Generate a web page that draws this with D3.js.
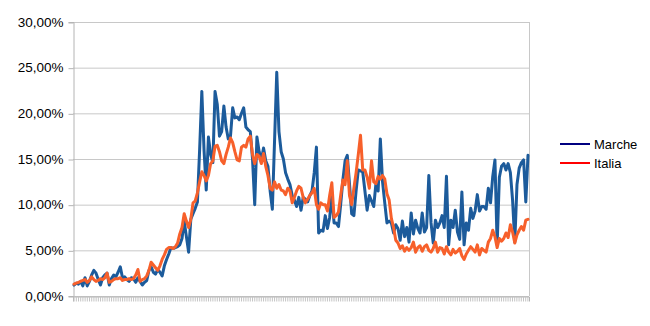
<!DOCTYPE html>
<html><head><meta charset="utf-8">
<script src="https://cdn.jsdelivr.net/npm/d3@7"></script>
<style>body{margin:0;background:#fff}svg{display:block}</style>
</head><body><svg id="c" width="650" height="326"></svg>
<script>
const seriesNames = ["Marche", "Italia"];
const marche = [1.2,1.4,1.3,1.6,1.1,2.0,1.1,1.6,2.3,2.8,2.5,1.8,1.2,2.0,2.3,2.5,1.2,1.9,2.3,2.1,
2.6,3.2,2.0,2.1,1.8,1.6,2.0,1.9,1.5,2.0,1.6,1.2,1.5,1.7,2.8,3.2,2.6,2.4,2.9,2.6,
2.2,3.3,4.0,4.6,5.3,5.2,5.3,5.4,5.6,6.3,8.2,6.5,4.8,8.4,9.0,9.6,10.3,16.0,22.4,16.0,
11.6,17.4,15.5,14.6,22.4,21.0,17.5,18.0,20.8,18.5,17.2,17.5,20.6,19.5,19.6,19.3,20.0,20.6,18.5,18.2,
18.0,15.0,10.0,17.4,15.8,14.9,16.2,14.8,14.2,11.5,9.5,17.0,24.5,18.0,15.8,15.0,13.5,12.8,12.2,11.0,
10.5,9.8,10.8,9.4,10.8,10.6,10.3,11.0,11.5,13.5,16.3,6.9,7.2,7.1,8.8,7.4,8.6,11.0,8.0,8.0,
7.6,10.0,12.7,14.8,15.4,12.3,9.0,8.8,11.5,13.8,13.7,13.6,11.5,9.4,11.0,10.4,9.8,12.3,11.5,17.2,
12.5,10.2,8.0,8.2,8.0,6.9,7.8,7.4,6.1,8.2,6.5,7.5,5.9,9.1,6.8,8.3,7.4,6.9,9.1,7.0,
7.5,13.2,8.0,5.8,8.3,7.5,8.0,8.8,7.5,13.1,5.6,8.3,7.5,9.4,7.0,6.2,11.4,5.6,8.0,7.2,
9.6,8.5,9.3,11.1,9.3,9.8,9.8,9.5,11.8,10.2,13.1,14.9,5.6,13.0,14.2,14.5,13.8,14.5,13.5,10.5,
5.9,12.2,14.0,14.6,14.9,10.3,15.4];
const italia = [1.3,1.4,1.5,1.6,1.7,1.8,1.5,1.7,2.1,1.8,1.6,1.7,1.9,1.8,2.0,2.5,1.5,1.6,1.8,1.9,
1.9,2.0,1.7,1.8,1.8,1.9,1.8,1.9,2.3,2.9,1.6,1.8,1.9,2.2,2.8,3.7,3.4,3.1,2.8,3.3,
4.0,4.5,5.1,5.3,5.3,5.2,5.4,5.8,6.8,7.5,9.0,8.2,7.5,8.4,10.2,10.4,11.3,12.5,13.6,13.2,
12.6,13.2,14.5,14.8,16.4,16.5,15.8,14.8,14.5,15.5,16.3,17.3,16.8,15.8,14.9,14.8,16.3,16.5,16.3,17.2,
17.5,15.5,14.5,15.5,15.3,14.5,15.6,14.2,13.2,11.8,11.6,12.5,11.8,12.2,11.6,11.5,11.1,11.8,11.5,10.2,
10.8,11.5,12.0,11.8,10.8,10.2,10.6,11.0,11.3,11.8,10.0,9.5,10.2,10.0,10.0,9.3,11.0,12.4,8.6,8.8,
9.2,11.0,12.7,12.2,14.8,11.0,10.0,11.8,13.5,15.5,17.6,13.8,13.8,13.0,11.8,14.8,12.5,12.3,13.1,12.8,
13.2,12.8,11.2,10.5,8.5,7.5,6.1,5.8,5.2,5.5,4.9,5.3,5.0,5.3,5.9,4.8,5.3,5.5,4.9,5.4,
5.6,5.0,4.8,5.2,5.9,4.8,5.3,5.2,4.6,5.4,4.8,4.5,5.1,4.7,4.9,5.2,4.4,4.0,4.6,5.0,
5.4,5.1,4.8,5.6,4.5,5.2,5.0,4.8,5.9,6.3,7.2,6.5,5.3,6.3,6.0,6.3,6.9,6.4,7.8,7.0,
5.8,6.7,7.2,7.6,7.2,8.3,8.4];
const yTicks = [0, 5, 10, 15, 20, 25, 30];
const colors = ["#1c5b9b", "#f7602b"];
const legendColors = ["#000080", "#ff0000"];

const svg = d3.select("#c");
const pL = 73, pR = 529, pT = 22, pB = 296;
const idx = d3.range(marche.length);
const x = d3.scalePoint().domain(idx).range([pL + 1, pR - 1]);
const y = d3.scaleLinear().domain([0, 30]).range([pB, pT]);
const fmt = v => d3.format(".2f")(v).replace(".", ",") + "%";

// gridlines
svg.append("g").selectAll("line").data(yTicks).join("line")
  .attr("x1", pL).attr("x2", pR)
  .attr("y1", d => y(d) + 0.5).attr("y2", d => y(d) + 0.5)
  .attr("stroke", "#c8c8c8").attr("stroke-width", 1);

// y axis
const ya = svg.append("g").attr("transform", `translate(${pL + 0.5},0)`)
  .call(d3.axisLeft(y).tickValues(yTicks).tickFormat(fmt).tickSize(5).tickPadding(5));
ya.select(".domain").attr("stroke", "#b4b4b4");
ya.selectAll(".tick line").attr("stroke", "#b4b4b4").attr("transform", "translate(0,0.5)");
ya.selectAll("text").attr("font-family", "Liberation Sans, Arial, sans-serif")
  .attr("font-size", 13.5).attr("fill", "#000");

// x axis
const xb = d3.scaleBand().domain(idx).range([pL, pR]);
const xa = svg.append("g").attr("transform", `translate(0,${pB + 0.5})`)
  .call(d3.axisBottom(xb).tickFormat("").tickSize(5));
xa.select(".domain").attr("stroke", "#b4b4b4");
xa.selectAll(".tick line").attr("stroke", "#c4c4c4");

// right border
svg.append("line").attr("x1", pR + 0.5).attr("x2", pR + 0.5)
  .attr("y1", pT).attr("y2", pB).attr("stroke", "#c8c8c8");

const line = d3.line().x((d, i) => x(i)).y(d => y(d));
[marche, italia].forEach((s, k) => {
  svg.append("path").datum(s).attr("d", line)
    .attr("fill", "none").attr("stroke", colors[k]).attr("stroke-width", 3)
    .attr("stroke-linejoin", "round").attr("stroke-linecap", "round");
});

// legend
const lg = svg.append("g");
seriesNames.forEach((n, k) => {
  const yy = 144 + k * 19;
  lg.append("line").attr("x1", 560).attr("x2", 590).attr("y1", yy).attr("y2", yy)
    .attr("stroke", legendColors[k]).attr("stroke-width", 2);
  lg.append("text").attr("x", 594).attr("y", yy + 5).text(n)
    .attr("font-family", "Liberation Sans, Arial, sans-serif").attr("font-size", 13).attr("fill", "#000");
});
</script></body></html>
